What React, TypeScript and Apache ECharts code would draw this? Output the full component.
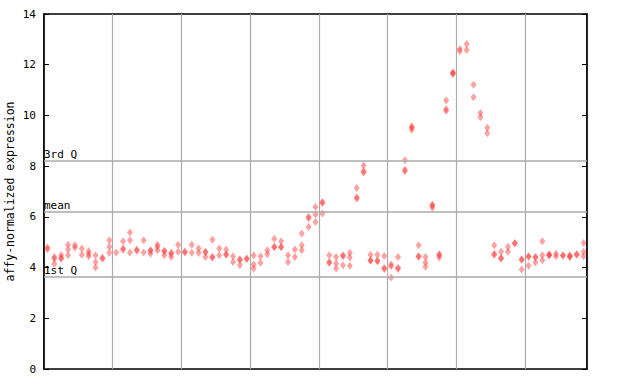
import React, { useEffect, useRef } from "react";
import * as echarts from "echarts";

const yTicks = [0, 2, 4, 6, 8, 10, 12, 14];
const refLines = [
  { name: "3rd Q", value: 8.21 },
  { name: "mean", value: 6.21 },
  { name: "1st Q", value: 3.62 },
];
const sampleValues: number[][] = [
  [4.8, 4.72], [4.42, 4.35, 4.15], [4.5, 4.38, 4.36], [4.9, 4.71, 4.49], [4.88, 4.79],
  [4.75, 4.51], [4.65, 4.55, 4.45], [4.49, 4.22, 4.0], [4.38, 4.36], [5.08, 4.82, 4.58],
  [4.59], [5.04, 4.75, 4.7], [5.38, 5.08, 4.59], [4.71, 4.66], [5.08, 4.59],
  [4.68, 4.66, 4.55], [4.9, 4.82, 4.68], [4.66, 4.63, 4.49], [4.58, 4.55, 4.42], [4.9, 4.62],
  [4.62, 4.6], [4.9, 4.58], [4.75, 4.58], [4.62, 4.6, 4.42], [5.1, 4.42, 4.4],
  [4.75, 4.49], [4.71, 4.53, 4.51], [4.45, 4.22], [4.32, 4.3, 4.09], [4.36, 4.34],
  [4.49, 4.12, 3.96], [4.45, 4.19], [4.68, 4.53], [5.14, 4.82, 4.8], [5.04, 4.82, 4.8],
  [4.49, 4.22], [4.71, 4.42], [5.34, 4.88, 4.68], [6.0, 5.95, 5.6], [6.39, 6.09, 5.8],
  [6.59, 6.55, 6.13], [4.49, 4.22, 4.18], [4.42, 4.16, 3.96], [4.49, 4.45, 4.09], [4.58, 4.4, 4.07],
  [7.14, 6.76, 6.72], [8.03, 7.8, 7.75], [4.51, 4.29, 4.27], [4.51, 4.27, 4.25], [4.46, 3.98, 3.94],
  [4.12, 4.05, 3.61], [4.42, 3.99, 3.94], [8.23, 7.86, 7.8], [9.56, 9.52, 9.44], [4.88, 4.45, 4.43],
  [4.42, 4.2, 4.03], [6.48, 6.45, 6.36], [4.53, 4.5, 4.4], [10.59, 10.24, 10.18], [11.7, 11.66, 11.63],
  [12.62, 12.53], [12.82, 12.58], [11.21, 10.72], [10.1, 9.93], [9.51, 9.3],
  [4.88, 4.55, 4.5], [4.62, 4.38, 4.36], [4.82, 4.62], [4.97, 4.95], [4.33, 4.31, 3.92],
  [4.45, 4.43, 4.07], [4.42, 4.4, 4.2], [5.04, 4.49, 4.29], [4.53, 4.5, 4.48], [4.55, 4.45],
  [4.49, 4.47], [4.49, 4.44, 4.42], [4.53, 4.51], [4.97, 4.62, 4.45],
];

const mono = "DejaVu Sans Mono";

export default function App() {
  const ref = useRef<HTMLDivElement>(null);
  useEffect(() => {
    if (!ref.current) return;
    const chart = echarts.init(ref.current, null, { renderer: "svg" });
    const points: number[][] = [];
    sampleValues.forEach((vals, i) => vals.forEach((v) => points.push([i + 0.5, v])));
    const yAxisBase = {
      type: "value" as const,
      min: 0,
      max: 14,
      interval: 2,
      axisLine: { show: true, lineStyle: { color: "#000", width: 1.5 } },
      axisTick: { show: true, inside: true, length: 5, lineStyle: { color: "#000" } },
      splitLine: { show: false },
    };
    chart.setOption({
      animation: false,
      backgroundColor: "#fff",
      grid: {
        left: 44, right: 53, top: 14, bottom: 15,
        show: true, borderColor: "#000", borderWidth: 1.5,
        containLabel: false, outerBoundsMode: "none",
      },
      xAxis: [
        {
          type: "value",
          min: 0,
          max: sampleValues.length,
          interval: 10,
          axisLine: { show: false },
          axisTick: { show: false },
          axisLabel: { show: false },
          splitLine: { show: true, lineStyle: { color: "#aaaaaa", width: 1.2 } },
        },
      ],
      yAxis: [
        {
          ...yAxisBase,
          position: "left",
          name: "affy-normalized expression",
          nameLocation: "middle",
          nameGap: 28,
          nameMoveOverlap: false,
          nameTextStyle: { fontFamily: mono, fontSize: 11.5, color: "#000" },
          axisLabel: {
            show: true,
            fontFamily: mono,
            fontSize: 11,
            color: "#000",
            margin: 8,
            formatter: (v: number) => (yTicks.includes(v) ? String(v) : ""),
          },
        },
        { ...yAxisBase, position: "right", axisLabel: { show: false } },
      ],
      series: [
        {
          type: "scatter",
          data: points,
          symbol: "diamond",
          symbolSize: [6, 8],
          itemStyle: { color: "rgba(255,60,60,0.6)" },
          markLine: {
            silent: true,
            symbol: "none",
            lineStyle: { color: "#aaaaaa", width: 1.5, type: "solid" },
            label: {
              show: true,
              position: "insideStartTop",
              distance: [0, 1],
              fontFamily: mono,
              fontSize: 11,
              color: "#000",
              formatter: (p: any) => p.name,
            },
            data: refLines.map((r) => ({ name: r.name, yAxis: r.value })),
          },
        },
      ],
    });
    return () => chart.dispose();
  }, []);
  return (
    <div
      ref={ref}
      style={{ position: "absolute", left: 0, top: 0, width: 640, height: 384 }}
    />
  );
}
